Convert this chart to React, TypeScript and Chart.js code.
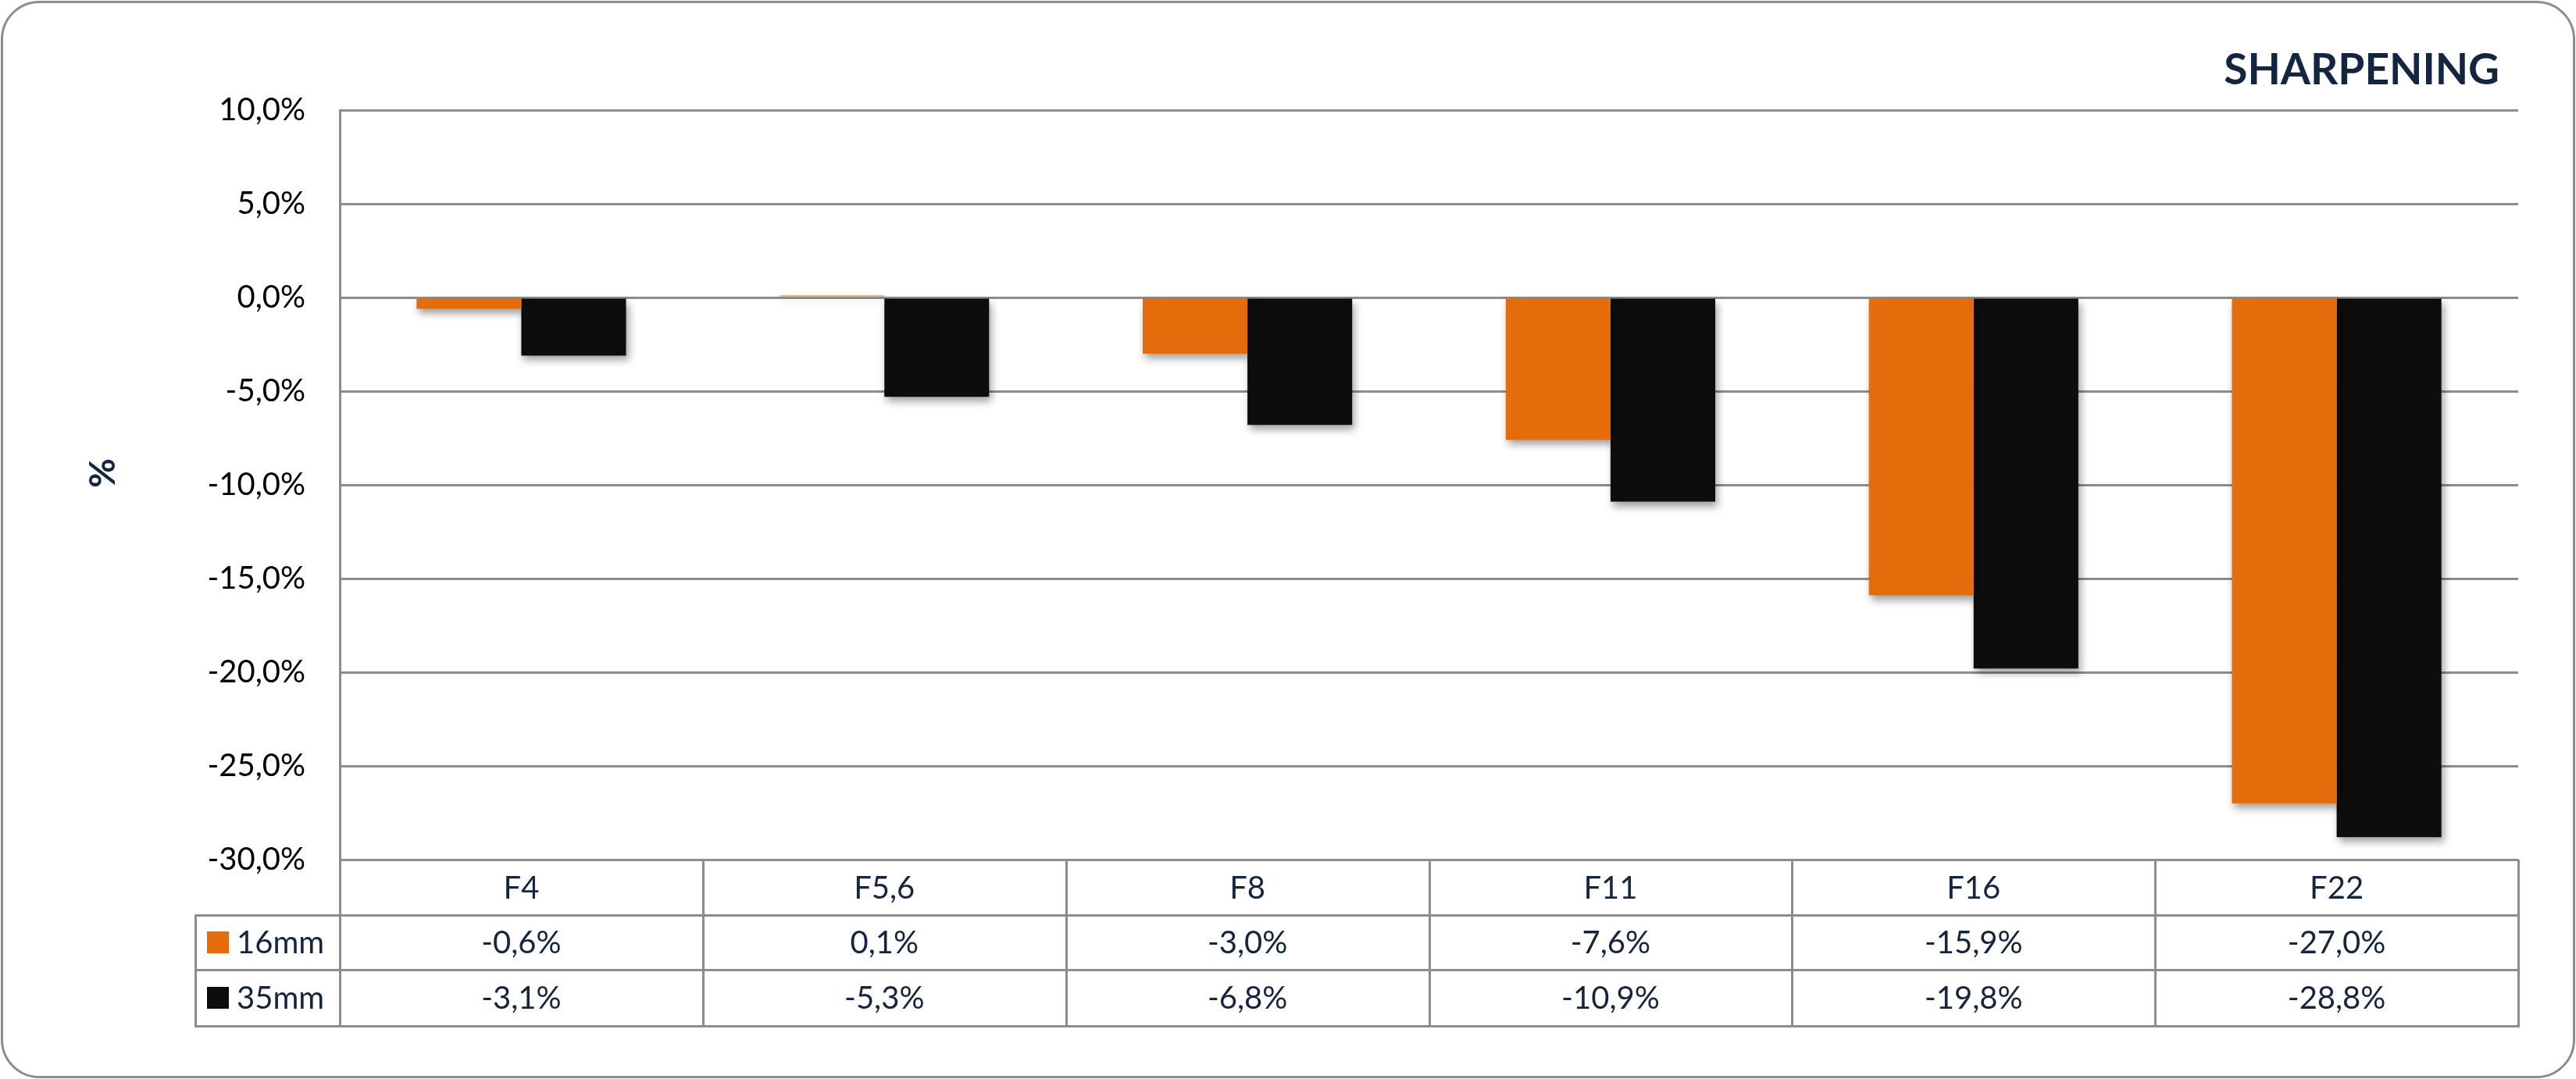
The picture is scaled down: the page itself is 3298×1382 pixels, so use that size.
import React, { useEffect, useRef } from 'react';
import { Chart, registerables } from 'chart.js';

Chart.register(...registerables);

// ---- data ----
const categories = ['F4', 'F5,6', 'F8', 'F11', 'F16', 'F22'];
const seriesNames = ['16mm', '35mm'];
const values16mm = [-0.6, 0.1, -3.0, -7.6, -15.9, -27.0];
const values35mm = [-3.1, -5.3, -6.8, -10.9, -19.8, -28.8];
const yMin = -30;
const yMax = 10;
const yStep = 5;
const chartTitle = 'SHARPENING';
const yAxisTitle = '%';

// ---- styles ----
const ORANGE = '#E46C0A';
const BLACK = '#0D0D0D';
const GRID = '#8C8C8C';
const NAVY = '#14263F';
const FONT = 'Lato, "Open Sans", sans-serif';

const fmt = (v: number) => v.toFixed(1).replace('.', ',') + '%';

const decorPlugin = {
  id: 'decor',
  beforeDatasetsDraw(chart: any) {
    const ctx = chart.ctx;
    ctx.save();
    ctx.shadowColor = 'rgba(0,0,0,0.38)';
    ctx.shadowBlur = 10;
    ctx.shadowOffsetX = 3;
    ctx.shadowOffsetY = 6;
  },
  afterDatasetsDraw(chart: any) {
    chart.ctx.restore();
  },
  afterDraw(chart: any) {
    const ctx = chart.ctx as CanvasRenderingContext2D;
    const W = chart.width;
    const H = chart.height;
    const area = chart.chartArea;
    const xs = chart.scales.x;

    ctx.save();
    // outer rounded border
    ctx.strokeStyle = GRID;
    ctx.lineWidth = 3;
    ctx.beginPath();
    (ctx as any).roundRect(2.5, 2.5, W - 5, H - 5, 48);
    ctx.stroke();

    // title
    ctx.fillStyle = NAVY;
    ctx.font = `bold 55px ${FONT}`;
    ctx.textAlign = 'right';
    ctx.textBaseline = 'alphabetic';
    ctx.fillText(chartTitle, area.right - 24, 108);

    // y axis title
    ctx.save();
    ctx.translate(147, 606);
    ctx.rotate(-Math.PI / 2);
    ctx.font = `bold 46px ${FONT}`;
    ctx.textAlign = 'center';
    ctx.fillText(yAxisTitle, 0, 0);
    ctx.restore();

    // data table
    const top = area.bottom;
    const rowH = [71, 70, 72];
    const y1 = top + rowH[0];
    const y2 = y1 + rowH[1];
    const y3 = y2 + rowH[2];
    const legendLeft = 250;
    const n = categories.length;
    const bounds: number[] = [area.left];
    for (let i = 0; i < n - 1; i++) {
      bounds.push((xs.getPixelForValue(i) + xs.getPixelForValue(i + 1)) / 2);
    }
    bounds.push(area.right);

    ctx.strokeStyle = GRID;
    ctx.lineWidth = 3;
    ctx.beginPath();
    for (const y of [y1, y2, y3]) {
      const yy = Math.round(y) + 0.5;
      ctx.moveTo(legendLeft, yy);
      ctx.lineTo(area.right + 1.5, yy);
    }
    for (const b of bounds) {
      const xx = Math.round(b) + 0.5;
      ctx.moveTo(xx, top);
      ctx.lineTo(xx, y3 + 1.5);
    }
    ctx.moveTo(legendLeft + 0.5, y1);
    ctx.lineTo(legendLeft + 0.5, y3 + 1.5);
    ctx.stroke();

    ctx.fillStyle = NAVY;
    ctx.font = `40px ${FONT}`;
    ctx.textAlign = 'center';
    const rows = [values16mm, values35mm];
    const colors = [ORANGE, BLACK];
    for (let i = 0; i < n; i++) {
      const cx = xs.getPixelForValue(i);
      ctx.fillText(categories[i], cx, top + rowH[0] / 2 + 14);
      ctx.fillText(fmt(rows[0][i]), cx, y1 + rowH[1] / 2 + 14);
      ctx.fillText(fmt(rows[1][i]), cx, y2 + rowH[2] / 2 + 14);
    }
    ctx.textAlign = 'left';
    const rowTops = [y1, y2];
    const rowHs = [rowH[1], rowH[2]];
    for (let r = 0; r < 2; r++) {
      const cy = rowTops[r] + rowHs[r] / 2;
      ctx.fillStyle = colors[r];
      ctx.fillRect(265, cy - 14, 28, 28);
      ctx.fillStyle = NAVY;
      ctx.fillText(seriesNames[r], 303, cy + 14);
    }
    ctx.restore();
  },
};

export default function App() {
  const canvasRef = useRef<HTMLCanvasElement | null>(null);

  useEffect(() => {
    document.body.style.margin = '0';
    if (!canvasRef.current) return;
    const chart = new Chart(canvasRef.current, {
      type: 'bar',
      data: {
        labels: categories,
        datasets: [
          {
            label: seriesNames[0],
            data: values16mm,
            backgroundColor: ORANGE,
            borderWidth: 0,
            categoryPercentage: 0.577,
            barPercentage: 1.0,
          },
          {
            label: seriesNames[1],
            data: values35mm,
            backgroundColor: BLACK,
            borderWidth: 0,
            categoryPercentage: 0.577,
            barPercentage: 1.0,
          },
        ],
      },
      options: {
        animation: false,
        responsive: true,
        maintainAspectRatio: false,
        layout: { padding: { top: 141, right: 74, bottom: 281, left: 0 } },
        plugins: {
          legend: { display: false },
          tooltip: { enabled: false },
          title: { display: false },
        },
        scales: {
          x: {
            display: false,
          },
          y: {
            min: yMin,
            max: yMax,
            ticks: {
              stepSize: yStep,
              padding: 44,
              color: '#000000',
              font: { family: FONT, size: 40 },
              callback: (v: any) => fmt(Number(v)),
            },
            grid: {
              color: GRID,
              lineWidth: 3,
              drawTicks: false,
            },
            border: { display: true, color: GRID, width: 3 },
            afterFit: (scale: any) => {
              scale.width = 435;
            },
          },
        },
      },
      plugins: [decorPlugin],
    });
    return () => chart.destroy();
  }, []);

  return (
    <div style={{ position: 'relative', width: '3298px', height: '1382px', background: '#ffffff' }}>
      <canvas ref={canvasRef} />
    </div>
  );
}
